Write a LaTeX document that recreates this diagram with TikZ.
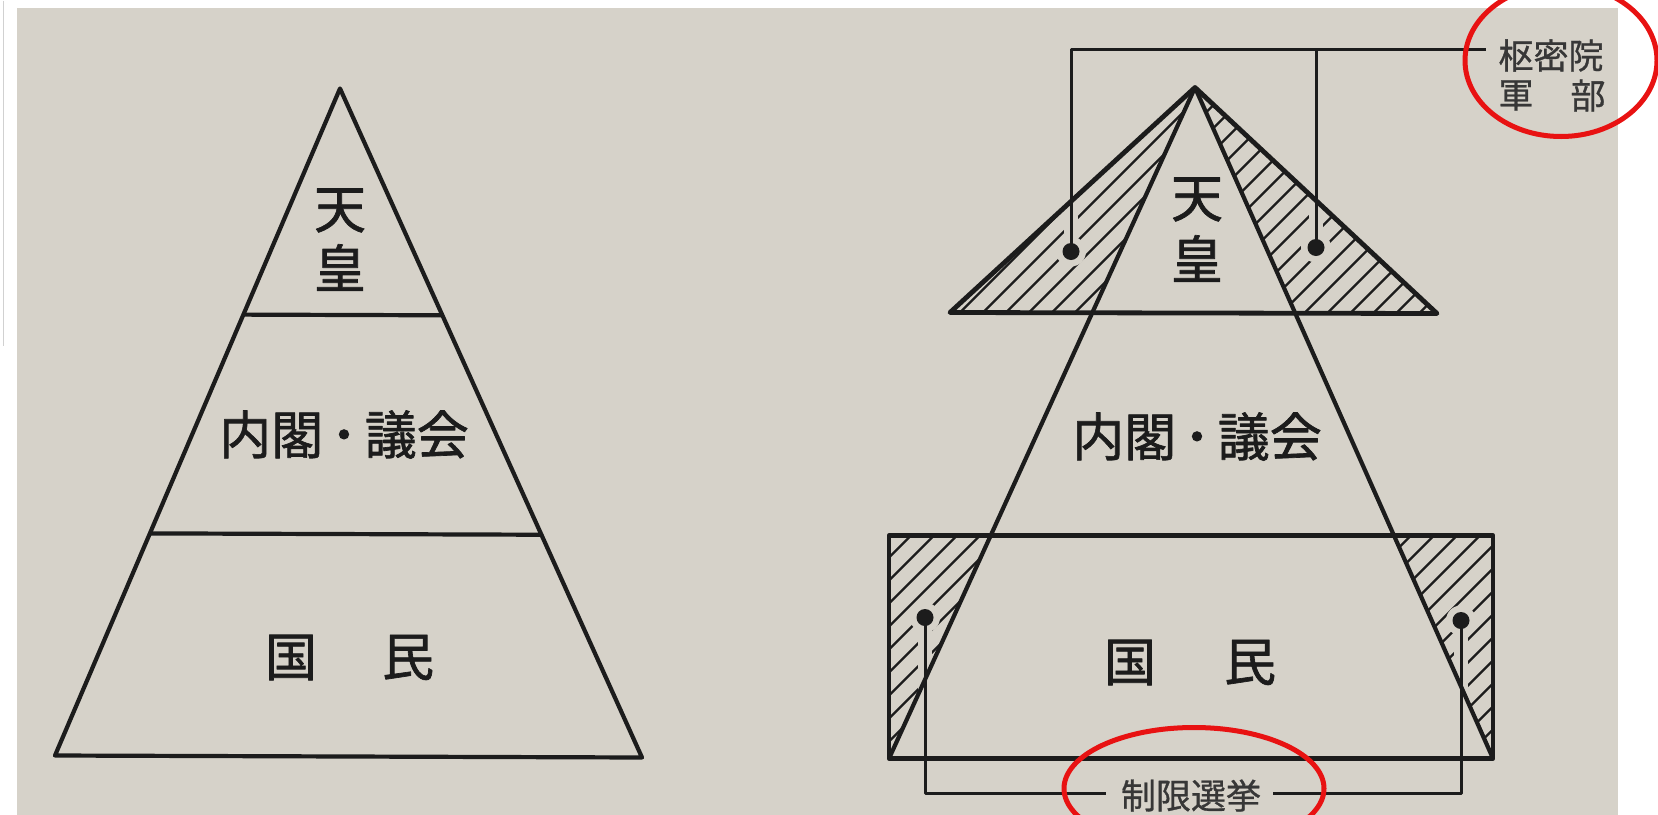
\documentclass[tikz,border=0pt]{standalone}
\usepackage{fontspec}
\newfontfamily\jpfont[FakeBold=1.3]{Noto Sans CJK JP}
\newfontfamily\jplabel[FakeBold=0.8]{Noto Sans CJK JP}
\usetikzlibrary{calc}
\definecolor{paper}{RGB}{214,210,201}
\definecolor{ink}{RGB}{28,28,28}
\definecolor{labelink}{RGB}{55,55,55}
\definecolor{mark}{RGB}{232,18,18}
\newcommand{\middot}{\hspace{0.3em}\raisebox{0.28em}{\tikz\fill[ink] (0,0) circle (5.2pt);}\hspace{0.3em}}
\begin{document}
\begin{tikzpicture}[x=1pt,y=-1pt,line join=round,
  edge/.style={draw=ink,line width=4.2pt},
  boldedge/.style={draw=ink,line width=4.8pt},
  leader/.style={draw=ink,line width=3pt},
  hatchline/.style={draw=ink,line width=2.4pt},
  halo/.style={draw=paper,line width=14pt},
  bigtext/.style={font=\jpfont\fontsize{52}{52}\selectfont,text=ink,inner sep=0pt},
  smalltext/.style={font=\jplabel\fontsize{35}{35}\selectfont,text=labelink,inner sep=0pt},
  ring/.style={draw=mark,line width=5pt}
]
% background
\fill[white] (0,0) rectangle (1658,814);
\fill[paper] (17,7) rectangle (1618,814);
\draw[black!18,line width=1pt] (3,0) -- (3,345);
\useasboundingbox (0,0) rectangle (1658,814);

% ---------------- left pyramid ----------------
\coordinate (LA) at (340,88);
\coordinate (LBl) at (55,755);
\coordinate (LBr) at (642,757);
\draw[edge] (LA) -- (LBl) -- (LBr) -- cycle;
\coordinate (L1l) at ($(LA)!0.339!(LBl)$);
\coordinate (L1r) at ($(LA)!0.339!(LBr)$);
\coordinate (L2l) at ($(LA)!0.667!(LBl)$);
\coordinate (L2r) at ($(LA)!0.667!(LBr)$);
\draw[edge] (L1l) -- (L1r);
\draw[edge] (L2l) -- (L2r);
\node[bigtext] (lten) at (340,210) {天};
\node[bigtext] (lnou) at (340,267) {皇};
\node[bigtext] (lnaikaku) at (344,434) {内閣\middot 議会};
\node[bigtext] (lkoku) at (291,657) {国};
\node[bigtext] (lmin) at (408,657) {民};

% ---------------- right figure ----------------
\coordinate (RA) at (1195,87);
\coordinate (UL) at (950,312);
\coordinate (UR) at (1437,313);
\coordinate (BL) at (889,758);
\coordinate (BR) at (1493,758);
\coordinate (TL) at (889,535);
\coordinate (TR) at (1493,535);
\coordinate (UIL) at ($(RA)!0.3353!(BL)$);
\coordinate (UIR) at ($(RA)!0.3353!(BR)$);
\coordinate (RIL) at ($(RA)!0.6677!(BL)$);
\coordinate (RIR) at ($(RA)!0.6677!(BR)$);
% dots and leader ends
\coordinate (DL1) at (1071,251);
\coordinate (DR1) at (1316,247);
\coordinate (DL2) at (925,617);
\coordinate (DR2) at (1461,620);
\coordinate (TBl) at (1071,49);
\coordinate (TBm) at (1316,49);
\coordinate (TBe) at (1486,49);
\coordinate (BBl) at (925,793);
\coordinate (BBr) at (1461,793);
\coordinate (BBm1) at (1106,793);
\coordinate (BBm2) at (1273,793);

% hatching
\begin{scope}
  \clip (RA) -- (UL) -- (UIL) -- cycle;
  \foreach \c in {1249,1272,...,1450} \draw[hatchline] (\c,0) -- (\c-900,900);
\end{scope}
\begin{scope}
  \clip (RA) -- (UIR) -- (UR) -- cycle;
  \foreach \c in {1249,1272,...,1780} \draw[hatchline] (\c,0) -- (\c-900,900);
\end{scope}
\begin{scope}
  \clip (TL) -- (RIL) -- (BL) -- cycle;
  \foreach \c in {1400,1423,...,1680} \draw[hatchline] (\c,0) -- (\c-900,900);
\end{scope}
\begin{scope}
  \clip (RIR) -- (TR) -- (BR) -- cycle;
  \foreach \c in {1900,1923,...,2280} \draw[hatchline] (\c,0) -- (\c-900,900);
\end{scope}
% gaps around leaders
\draw[halo] (DL1) -- (TBl);
\draw[halo] (DR1) -- (TBm);
\draw[halo] (DL2) -- (BBl);
\draw[halo] (DR2) -- (BBr);
\fill[paper] (DL1) circle (15);
\fill[paper] (DR1) circle (15);
\fill[paper] (DL2) circle (15);
\fill[paper] (DR2) circle (15);

% outlines
\draw[boldedge] (RA) -- (UL) -- (UR) -- cycle;
\draw[edge] (RA) -- (BL);
\draw[edge] (RA) -- (BR);
\draw[boldedge] (TL) rectangle (BR);

% leaders and dots
\draw[leader] (DL1) -- (TBl) -- (TBe);
\draw[leader] (TBm) -- (DR1);
\draw[leader] (DL2) -- (BBl) -- (BBm1);
\draw[leader] (BBm2) -- (BBr) -- (DR2);
\fill[ink] (DL1) circle (8.5);
\fill[ink] (DR1) circle (8.5);
\fill[ink] (DL2) circle (8.5);
\fill[ink] (DR2) circle (8.5);

% texts
\node[bigtext] (rten) at (1197,199) {天};
\node[bigtext] (rnou) at (1197,258) {皇};
\node[bigtext] (rnaikaku) at (1197,436) {内閣\middot 議会};
\node[bigtext] (rkoku) at (1130,662) {国};
\node[bigtext] (rmin) at (1250,662) {民};
\node[smalltext] (suumitsuin) at (1551,55) {枢密院};
\node[smalltext] (gun) at (1516,95) {軍};
\node[smalltext] (bu) at (1588,95) {部};
\node[smalltext] (seigen) at (1191,795) {制限選挙};

% red marks
\draw[ring] (1561,60) ellipse [x radius=96, y radius=76];
\draw[ring] (1194,788) ellipse [x radius=130, y radius=61];
\end{tikzpicture}
\end{document}
